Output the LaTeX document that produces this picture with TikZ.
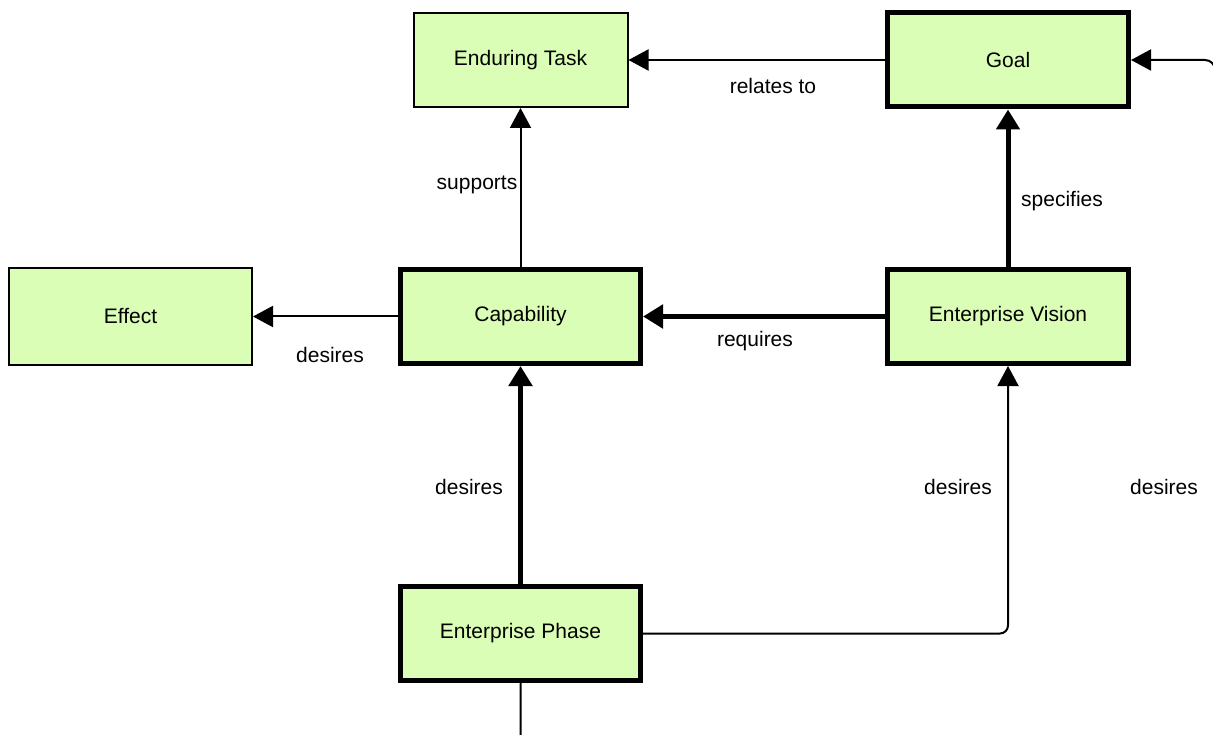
\documentclass[tikz,border=0pt]{standalone}
\usepackage{fontspec}
\setmainfont{Liberation Sans}
\usetikzlibrary{arrows.meta}
\definecolor{boxfill}{RGB}{218,254,182}
\begin{document}
\begin{tikzpicture}[x=1pt,y=-1pt,
  font=\fontsize{21}{25}\selectfont,
  thinbox/.style={draw=black,fill=boxfill,line width=2pt,inner sep=0pt},
  thickbox/.style={draw=black,fill=boxfill,line width=5pt,inner sep=0pt,
    minimum width=240pt,minimum height=94pt},
  thinlink/.style={line width=2pt,-{Triangle[length=20pt,width=21pt]}},
  thicklink/.style={line width=5pt,-{Triangle[length=20pt,width=23pt]}},
  lbl/.style={inner sep=0pt}]
\useasboundingbox (0,0) rectangle (1213,735);
\clip (0,0) rectangle (1213,735);

% concept boxes
\node[thinbox,minimum width=214pt,minimum height=94pt] (task) at (520.5,60) {Enduring Task};
\node[thickbox,minimum width=241pt] (goal) at (1008,60) {Goal};
\node[thinbox,minimum width=243pt,minimum height=97pt] (effect) at (130.5,316.5) {Effect};
\node[thickbox] (cap) at (520.5,316.5) {Capability};
\node[thickbox,minimum width=241pt] (vision) at (1008,316.5) {Enterprise Vision};
\node[thickbox] (phase) at (520.5,633.5) {Enterprise Phase};

% relationships
\draw[thinlink] (goal) -- (task);
\draw[thinlink] (cap.north) -- (task.south);
\draw[thicklink] (vision.north) -- (goal.south);
\draw[thinlink] (cap) -- (effect);
\draw[thicklink] (vision) -- (cap);
\draw[thicklink] (phase.north) -- (cap.south);
\draw[thinlink,rounded corners=8pt] (phase.east) -| (vision.south);

% long route from the phase round to the goal
\coordinate (r1) at (520.5,780);
\coordinate (r2) at (1215,780);
\coordinate (r3) at (1215,60);
\draw[thinlink,rounded corners=10pt] (phase.south) -- (r1) -- (r2) -- (r3) -- (goal.east);

% relationship labels
\node[lbl] (l1) at (773,86) {relates to};
\node[lbl] (l2) at (477,185) {supports};
\node[lbl] (l3) at (1062,201) {specifies};
\node[lbl] (l4) at (330,355) {desires};
\node[lbl] (l5) at (755,341) {requires};
\node[lbl] (l6) at (469,487) {desires};
\node[lbl] (l7) at (958,487) {desires};
\node[lbl] (l8) at (1164,487) {desires};
\end{tikzpicture}
\end{document}
